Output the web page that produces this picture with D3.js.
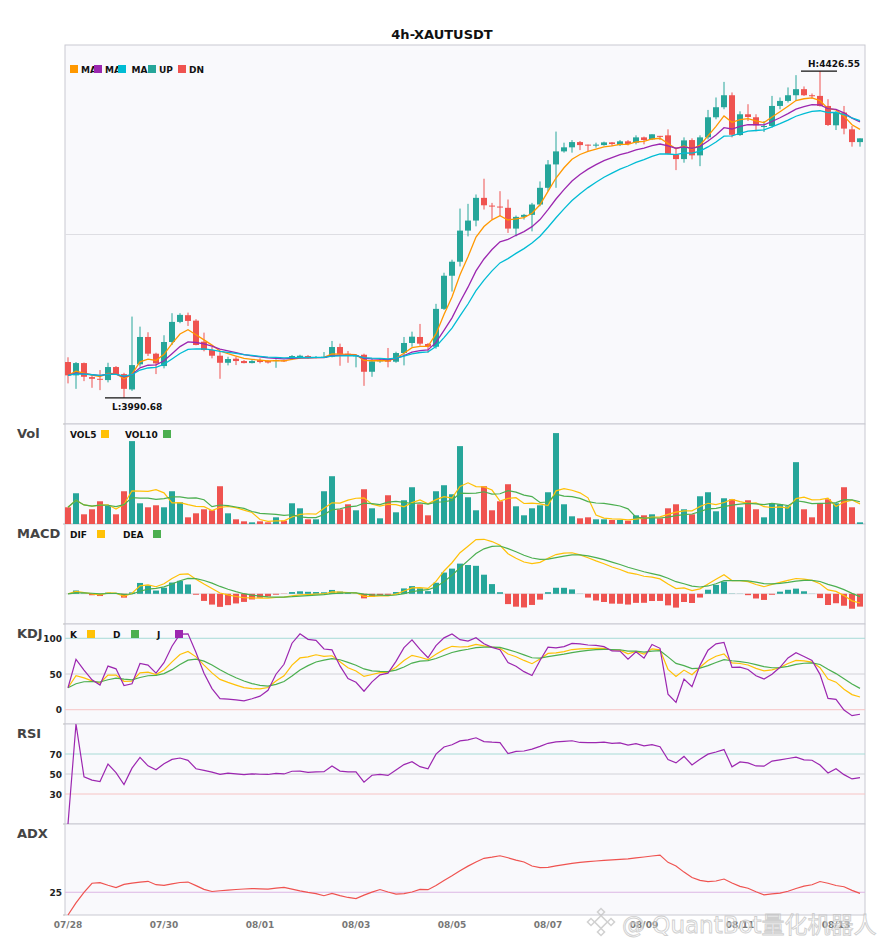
<!DOCTYPE html>
<html>
<head>
<meta charset="utf-8">
<script src="https://cdn.jsdelivr.net/npm/d3@7/dist/d3.min.js"></script>
<style>
  body { margin: 0; background: #fff; }
  text { font-family: "DejaVu Sans", sans-serif; }
</style>
</head>
<body>
<svg id="chart" width="885" height="950"></svg>
<script>
// 4h bars
var title = '4h-XAUTUSDT';
var opens = [4038.5,4020.7,4037.1,4018.4,4016.1,4014.4,4031.8,4022.4,4001.9,4035.4,
  4071.9,4049.6,4033.1,4065.2,4092.0,4101.0,4093.7,4065.6,4054.5,4046.9,
  4037.5,4042.9,4039.8,4037.1,4041.1,4039.8,4039.8,4040.7,4042.9,4044.2,
  4046.5,4044.2,4044.2,4045.5,4058.5,4049.6,4046.5,4048.2,4025.5,4039.4,
  4042.1,4038.9,4050.5,4063.9,4071.9,4062.5,4058.9,4109.4,4153.6,4172.3,
  4213.8,4227.2,4257.5,4247.2,4245.9,4244.2,4216.5,4232.1,4234.8,4248.6,
  4270.9,4302.1,4319.5,4324.9,4331.9,4328.5,4327.5,4327.9,4331.5,4327.9,
  4332.9,4331.1,4338.2,4335.6,4340.2,4340.9,4315.5,4309.2,4334.6,4314.2,
  4338.2,4365.0,4378.4,4394.4,4341.3,4369.0,4365.0,4352.0,4353.4,4380.1,
  4386.8,4394.4,4402.5,4394.4,4393.5,4380.1,4354.3,4371.3,4348.9,4331.9];
var highs = [4044.8,4038.5,4037.8,4022.4,4027.8,4037.5,4033.1,4024.1,4099.1,4085.7,
  4078.2,4050.9,4074.2,4103.6,4103.6,4104.4,4095.6,4077.7,4058.9,4053.6,
  4045.5,4045.5,4041.1,4041.1,4043.4,4041.1,4042.1,4041.5,4047.8,4048.2,
  4047.8,4046.5,4051.8,4066.6,4063.0,4053.2,4047.8,4049.6,4042.9,4042.9,
  4057.2,4052.2,4071.9,4079.0,4089.3,4063.9,4116.1,4157.6,4175.0,4243.2,
  4249.5,4262.0,4283.0,4250.8,4266.4,4255.3,4233.9,4236.1,4250.8,4279.4,
  4307.9,4345.9,4331.1,4334.6,4333.3,4328.5,4331.1,4332.5,4331.9,4334.6,
  4334.6,4340.9,4339.2,4342.3,4340.2,4348.9,4324.5,4338.2,4336.9,4340.9,
  4374.8,4391.4,4412.2,4398.1,4373.0,4382.4,4369.0,4360.0,4393.5,4391.4,
  4404.8,4421.2,4406.1,4396.7,4426.55,4389.1,4373.4,4380.1,4353.4,4336.9];
var lows = [4010.0,4002.7,4013.0,4004.1,4001.0,4011.3,4021.1,3990.68,4000.0,4032.2,
  4046.5,4022.4,4030.0,4061.2,4090.3,4086.6,4060.8,4052.8,4043.4,4016.1,
  4034.0,4034.4,4036.7,4036.7,4036.7,4036.5,4030.8,4038.5,4041.1,4042.9,
  4042.9,4043.4,4043.8,4044.8,4033.5,4037.5,4031.4,4006.7,4018.8,4037.5,
  4031.4,4037.5,4034.0,4058.9,4060.3,4050.9,4056.3,4108.0,4132.5,4166.0,
  4206.1,4219.5,4241.9,4228.5,4232.9,4210.7,4206.1,4228.5,4212.8,4246.3,
  4266.4,4270.9,4317.8,4317.8,4321.2,4319.9,4324.5,4327.1,4326.6,4326.6,
  4327.5,4328.9,4328.9,4334.6,4334.6,4315.5,4294.5,4304.4,4308.8,4299.8,
  4335.6,4362.3,4375.7,4338.2,4340.2,4360.0,4346.3,4345.3,4351.2,4375.7,
  4384.7,4386.8,4393.5,4390.0,4379.3,4353.4,4348.0,4342.3,4325.8,4325.8];
var closes = [4020.7,4037.1,4018.8,4016.1,4014.8,4031.8,4022.4,4002.7,4034.4,4071.9,
  4049.6,4036.7,4065.2,4092.0,4101.4,4093.3,4061.2,4054.5,4046.9,4037.5,
  4042.5,4039.8,4037.1,4039.8,4038.5,4037.8,4041.1,4039.4,4046.5,4046.9,
  4044.2,4045.2,4045.5,4058.5,4048.8,4047.4,4047.4,4025.5,4039.4,4041.1,
  4038.9,4050.5,4063.9,4072.3,4063.0,4058.9,4109.4,4153.6,4172.3,4213.8,
  4227.2,4257.5,4247.6,4245.9,4245.0,4216.5,4232.1,4234.8,4248.6,4270.9,
  4302.1,4319.5,4324.9,4331.9,4327.9,4327.5,4328.5,4331.5,4329.3,4332.9,
  4329.3,4338.2,4334.6,4342.3,4338.9,4316.2,4309.2,4334.2,4314.2,4338.2,
  4365.0,4378.4,4394.4,4341.6,4369.0,4365.4,4354.3,4353.4,4380.1,4386.8,
  4394.4,4402.5,4394.4,4393.5,4380.1,4354.7,4371.3,4349.9,4331.9,4336.9];
var volumes = [500,920,290,440,680,540,290,980,2480,620,
  500,560,500,980,650,200,320,440,410,1130,
  320,140,80,50,80,50,200,100,620,470,
  140,140,980,1430,440,590,410,1040,470,170,
  860,350,710,1100,590,260,980,1160,890,2330,
  800,410,1130,410,680,1190,530,260,470,560,
  950,2720,590,230,170,200,140,140,120,120,
  100,260,260,290,170,470,590,440,290,830,
  950,380,770,740,500,710,440,200,620,590,
  530,1850,440,200,620,740,620,1100,500,50];

var tickIndex = [0, 12, 24, 36, 48, 60, 72, 84, 96];
var tickLabels = ['07/28', '07/30', '08/01', '08/03', '08/05', '08/07', '08/09', '08/11', '08/13'];
var maPeriods = [5, 10, 15];
var macdPeriods = [6, 13, 5];
var kdjLevels = [100, 50, 0];
var rsiLevels = [70, 50, 30];
var adxLevels = [25];

var UP = '#26a69a', DN = '#ef5350';

// ---- indicators ----
function ema(arr, n) {
  var a = 2 / (n + 1), out = [];
  arr.forEach(function(v, i) { out.push(i ? out[i - 1] + a * (v - out[i - 1]) : v); });
  return out;
}
function sma(arr, n) {
  return arr.map(function(v, i) { return d3.mean(arr.slice(Math.max(0, i - n + 1), i + 1)); });
}
// running mean for the first n bars, Wilder smoothing after
function wilder(arr, n) {
  var out = [];
  arr.forEach(function(v, i) {
    if (i < n) out.push(((i ? out[i - 1] * i : 0) + v) / (i + 1));
    else out.push((out[i - 1] * (n - 1) + v) / n);
  });
  return out;
}

var idx = d3.range(closes.length);
var mas = maPeriods.map(function(p) { return ema(closes, p); });
var vol5 = sma(volumes, 5), vol10 = sma(volumes, 10);

var eFast = ema(closes, macdPeriods[0]), eSlow = ema(closes, macdPeriods[1]);
var dif = eFast.map(function(v, i) { return v - eSlow[i]; });
var dea = ema(dif, macdPeriods[2]);
var hist = dif.map(function(v, i) { return 2 * (v - dea[i]); });

var K = [], D = [], J = [];
closes.forEach(function(c, i) {
  var lo = d3.min(lows.slice(Math.max(0, i - 8), i + 1));
  var hi = d3.max(highs.slice(Math.max(0, i - 8), i + 1));
  var rsv = hi > lo ? (c - lo) / (hi - lo) * 100 : 50;
  if (i === 0) { K.push(rsv); D.push(rsv); }
  else { K.push(K[i - 1] * 2 / 3 + rsv / 3); D.push(D[i - 1] * 2 / 3 + K[i] / 3); }
  J.push(3 * K[i] - 2 * D[i]);
});

var chg = closes.map(function(c, i) { return i ? c - closes[i - 1] : 0; });
var avgGain = wilder(chg.map(function(v) { return v > 0 ? v : 0; }), 14);
var avgLoss = wilder(chg.map(function(v) { return v < 0 ? -v : 0; }), 14);
var rsi = avgGain.map(function(g, i) { return g + avgLoss[i] > 0 ? 100 * g / (g + avgLoss[i]) : 0; });

var pdm = [0], mdm = [0];
for (var i = 1; i < closes.length; i++) {
  var up = highs[i] - highs[i - 1], dn = lows[i - 1] - lows[i];
  pdm.push(up > dn && up > 0 ? up : 0);
  mdm.push(dn > up && dn > 0 ? dn : 0);
}
var ps = ema(pdm, 14), ms = ema(mdm, 14);
var dx = ps.map(function(p, i) { return p + ms[i] > 0 ? 100 * Math.abs(p - ms[i]) / (p + ms[i]) : 0; });
var adx = ema(dx, 14);

// ---- layout ----
var svg = d3.select('#chart');
var left = 65, right = 865;
var panels = {
  main: {top: 45, h: 379}, vol: {top: 424, h: 100}, macd: {top: 524, h: 100},
  kdj: {top: 624, h: 100}, rsi: {top: 724, h: 100}, adx: {top: 824, h: 91}
};

var x = d3.scaleBand().domain(idx).range([left - 1, right - 1]).paddingInner(0.25).paddingOuter(0.125);
var cx = function(i) { return x(i) + x.bandwidth() / 2; };

var pLo = d3.min(lows), pHi = d3.max(highs), pR = pHi - pLo;
var yP = d3.scaleLinear().domain([pLo - 0.08 * pR, pHi + 0.08 * pR]).range([panels.main.top + panels.main.h, panels.main.top]);
var yV = d3.scaleLinear().domain([0, d3.max(volumes) * 1.1]).range([panels.vol.top + panels.vol.h, panels.vol.top]);
var mExt = d3.extent(dif.concat(dea, hist)), mR = mExt[1] - mExt[0];
var yM = d3.scaleLinear().domain([mExt[0] - 0.22 * mR, mExt[1] + 0.22 * mR]).range([panels.macd.top + panels.macd.h, panels.macd.top]);
var yK = d3.scaleLinear().domain([-20, 120]).range([panels.kdj.top + panels.kdj.h, panels.kdj.top]);
var yR = d3.scaleLinear().domain([0, 100]).range([panels.rsi.top + panels.rsi.h, panels.rsi.top]);
var yA = d3.scaleLinear().domain([0, 100]).range([panels.adx.top + panels.adx.h, panels.adx.top]);

// title
svg.append('text').attr('x', 442).attr('y', 39).attr('text-anchor', 'middle')
  .style('font-size', '13px').style('font-weight', 'bold').attr('fill', '#111').text(title);

// panel backgrounds
Object.keys(panels).forEach(function(k) {
  var p = panels[k];
  svg.append('rect').attr('x', left).attr('y', p.top).attr('width', right - left).attr('height', p.h)
    .attr('fill', '#f9f9fc').attr('stroke', '#c9c9d2').attr('stroke-width', 1);
  svg.append('line').attr('x1', left - 2).attr('x2', left).attr('y1', p.top + p.h).attr('y2', p.top + p.h)
    .attr('stroke', '#bbb');
});

function hline(y, color) {
  svg.append('line').attr('x1', left).attr('x2', right).attr('y1', y).attr('y2', y)
    .attr('stroke', color).attr('stroke-width', 1);
}
// reference lines
hline(panels.main.top + panels.main.h / 2, '#dedee3');
hline(yM(0), '#dedee3');
var levelColor = function(v, hi, lo) { return v === hi ? '#a8dbd6' : (v === lo ? '#f7c4c4' : '#d2d2d8'); };
kdjLevels.forEach(function(v) { hline(yK(v), levelColor(v, 100, 0)); });
rsiLevels.forEach(function(v) { hline(yR(v), levelColor(v, 70, 30)); });
adxLevels.forEach(function(v) { hline(yA(v), '#dcb6e4'); });

// level labels
function levelLabels(levels, y) {
  levels.forEach(function(v) {
    svg.append('text').attr('x', 62).attr('y', y(v) + 3.5).attr('text-anchor', 'end')
      .style('font-size', '9px').style('font-weight', 'bold').attr('fill', '#222').text(v);
  });
}
levelLabels(kdjLevels, yK);
levelLabels(rsiLevels, yR);
levelLabels(adxLevels, yA);

// panel names
[['Vol', 'vol'], ['MACD', 'macd'], ['KDJ', 'kdj'], ['RSI', 'rsi'], ['ADX', 'adx']].forEach(function(d) {
  svg.append('text').attr('x', 17).attr('y', panels[d[1]].top + 14)
    .style('font-size', '13px').style('font-weight', 'bold').attr('fill', '#444').text(d[0]);
});

var isUp = function(i) { return closes[i] >= opens[i]; };

// candles
var cg = svg.append('g');
cg.selectAll('line').data(idx).enter().append('line')
  .attr('x1', cx).attr('x2', cx)
  .attr('y1', function(i) { return yP(highs[i]); }).attr('y2', function(i) { return yP(lows[i]); })
  .attr('stroke', function(i) { return isUp(i) ? UP : DN; }).attr('stroke-width', 1);
cg.selectAll('rect').data(idx).enter().append('rect')
  .attr('x', function(i) { return x(i); }).attr('width', x.bandwidth())
  .attr('y', function(i) { return yP(Math.max(opens[i], closes[i])); })
  .attr('height', function(i) { return Math.max(1, Math.abs(yP(opens[i]) - yP(closes[i]))); })
  .attr('fill', function(i) { return isUp(i) ? UP : DN; });

function drawLine(values, y, color, w) {
  svg.append('path').datum(idx)
    .attr('d', d3.line().x(cx).y(function(i) { return y(values[i]); }))
    .attr('fill', 'none').attr('stroke', color).attr('stroke-width', w || 1.2);
}
var maColors = ['#ff9800', '#9c27b0', '#00bcd4'];
mas.forEach(function(m, k) { drawLine(m, yP, maColors[k], 1.3); });

// high / low markers
var iHi = d3.maxIndex(highs), iLo = d3.minIndex(lows);
svg.append('line').attr('x1', cx(iHi) - 19).attr('x2', cx(iHi) + 17).attr('y1', yP(pHi)).attr('y2', yP(pHi))
  .attr('stroke', '#111').attr('stroke-width', 1.3);
svg.append('text').attr('x', cx(iHi) - 12).attr('y', yP(pHi) - 4)
  .style('font-size', '9px').style('font-weight', 'bold').attr('fill', '#111').text('H:' + pHi.toFixed(2));
svg.append('line').attr('x1', cx(iLo) - 19).attr('x2', cx(iLo) + 17).attr('y1', yP(pLo)).attr('y2', yP(pLo))
  .attr('stroke', '#111').attr('stroke-width', 1.3);
svg.append('text').attr('x', cx(iLo) - 12).attr('y', yP(pLo) + 12)
  .style('font-size', '9px').style('font-weight', 'bold').attr('fill', '#111').text('L:' + pLo.toFixed(2));

// volume
svg.append('g').selectAll('rect').data(idx).enter().append('rect')
  .attr('x', function(i) { return x(i); }).attr('width', x.bandwidth())
  .attr('y', function(i) { return yV(volumes[i]); })
  .attr('height', function(i) { return yV(0) - yV(volumes[i]); })
  .attr('fill', function(i) { return isUp(i) ? UP : DN; });
drawLine(vol5, yV, '#ffc107');
drawLine(vol10, yV, '#4caf50');

// macd
svg.append('g').selectAll('rect').data(idx).enter().append('rect')
  .attr('x', function(i) { return x(i); }).attr('width', x.bandwidth())
  .attr('y', function(i) { return yM(Math.max(0, hist[i])); })
  .attr('height', function(i) { return Math.abs(yM(hist[i]) - yM(0)); })
  .attr('fill', function(i) { return hist[i] >= 0 ? UP : DN; });
drawLine(dif, yM, '#ffc107');
drawLine(dea, yM, '#4caf50');

// kdj, rsi, adx
drawLine(K, yK, '#ffc107');
drawLine(D, yK, '#4caf50');
drawLine(J, yK, '#9c27b0');
drawLine(rsi, yR, '#9c27b0');
drawLine(adx, yA, '#ef5350');

// legends
function legend(items, y) {
  items.forEach(function(it) {
    if (it.text) {
      svg.append('text').attr('x', it.x).attr('y', y + 7.5)
        .style('font-size', '9px').style('font-weight', 'bold').attr('fill', '#111').text(it.text);
    } else {
      svg.append('rect').attr('x', it.x).attr('y', y).attr('width', 8).attr('height', 8).attr('fill', it.color);
    }
  });
}
legend([
  {x: 70, color: maColors[0]}, {x: 81, text: 'MA'},
  {x: 94, color: maColors[1]}, {x: 105, text: 'MA'},
  {x: 118, color: maColors[2]}, {x: 131.5, text: 'MA'},
  {x: 148, color: UP}, {x: 159, text: 'UP'},
  {x: 178, color: DN}, {x: 189, text: 'DN'}
], 65);
legend([{x: 70, text: 'VOL5'}, {x: 101, color: '#ffc107'}, {x: 125, text: 'VOL10'}, {x: 163, color: '#4caf50'}], 430);
legend([{x: 70, text: 'DIF'}, {x: 97, color: '#ffc107'}, {x: 123, text: 'DEA'}, {x: 153, color: '#4caf50'}], 530);
legend([{x: 70, text: 'K'}, {x: 87, color: '#ffc107'}, {x: 113, text: 'D'}, {x: 131, color: '#4caf50'},
  {x: 157, text: 'J'}, {x: 175, color: '#9c27b0'}], 630);

// x axis
var xAxis = d3.axisBottom(x).tickValues(tickIndex)
  .tickFormat(function(d) { return tickLabels[tickIndex.indexOf(d)]; }).tickSize(0).tickPadding(7);
var ax = svg.append('g').attr('transform', 'translate(0,' + (panels.adx.top + panels.adx.h) + ')').call(xAxis);
ax.select('.domain').remove();
ax.selectAll('text').style('font-size', '9px').style('font-weight', 'bold').attr('fill', '#777')
  .style('font-family', '"DejaVu Sans", sans-serif');

// watermark
var wm = svg.append('g').attr('opacity', 0.8);
var lx = 601, ly = 922;
[[0, 0, 9], [-10, 0, 5], [10, 0, 5], [0, -10, 5], [0, 10, 5]].forEach(function(d) {
  wm.append('rect').attr('x', lx + d[0] - d[2] / 2).attr('y', ly + d[1] - d[2] / 2)
    .attr('width', d[2]).attr('height', d[2])
    .attr('transform', 'rotate(45,' + (lx + d[0]) + ',' + (ly + d[1]) + ')')
    .attr('fill', 'none').attr('stroke', '#c6c6c6').attr('stroke-width', 1.5);
});
wm.append('text').attr('x', 622).attr('y', 933)
  .style('font-family', '"DejaVu Sans", "Noto Sans CJK SC", sans-serif').style('font-size', '23px')
  .attr('fill', 'rgba(255,255,255,0.5)').attr('stroke', '#c4c4c4').attr('stroke-width', 0.9)
  .text('@ QuantBot量化机器人');
</script>
</body>
</html>
